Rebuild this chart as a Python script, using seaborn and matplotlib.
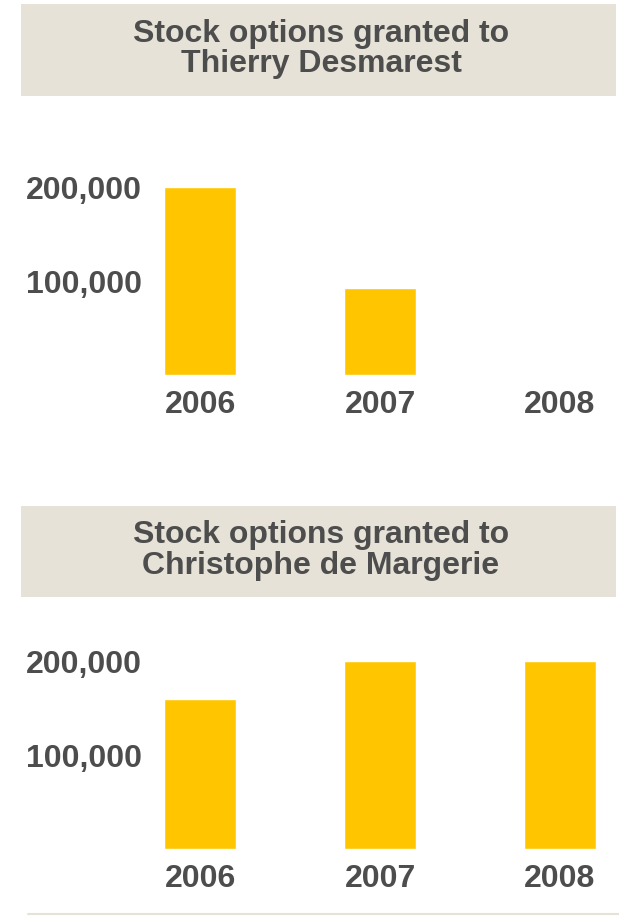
import matplotlib
matplotlib.use("Agg")
import matplotlib.pyplot as plt
from matplotlib.patches import Rectangle
import pandas as pd
import seaborn as sns

# Data
years = ["2006", "2007", "2008"]
desmarest_options = [200000, 92500, 0]
margerie_options = [160000, 200000, 200000]
ytick_values = [100000, 200000]
ytick_labels = ["100,000", "200,000"]
titles = ["Stock options granted to\nThierry Desmarest",
          "Stock options granted to\nChristophe de Margerie"]

BAR = "#FFC600"
BOX = "#E6E2D7"
TEXT = "#4D4D4D"

sns.set_theme(style="white")
plt.rcParams["font.family"] = ["Liberation Sans", "DejaVu Sans"]

W, H = 619, 916
fig = plt.figure(figsize=(W / 100, H / 100), dpi=100)
fig.patch.set_facecolor("white")


def px_rect(x0, y0, x1, y1):
    """Convert a top-left pixel box into figure fraction [left, bottom, width, height]."""
    return [x0 / W, 1 - y1 / H, (x1 - x0) / W, (y1 - y0) / H]


def panel(values, title, box_top, box_bottom, axis_zero):
    # title band
    l, b, w, h = px_rect(21, box_top, 616, box_bottom)
    fig.patches.append(Rectangle((l, b), w, h, transform=fig.transFigure,
                                 facecolor=BOX, edgecolor="none", zorder=0))
    fig.text(321 / W, 1 - ((box_top + box_bottom) / 2 - 1) / H, title,
             ha="center", va="center", fontsize=23, fontweight="bold",
             color=TEXT, linespacing=1.02)

    # bar axes: 188 px per 200,000, category spacing 180 px
    ax_left, ax_right = 150, 612
    ax_top = axis_zero - 200
    ax = fig.add_axes(px_rect(ax_left, ax_top, ax_right, axis_zero))
    df = pd.DataFrame({"year": years, "options": values})
    sns.barplot(data=df, x="year", y="options", color=BAR, saturation=1,
                width=0.4, ax=ax)
    ax.set_xlim((ax_left - 200) / 180, (ax_right - 200) / 180)
    ax.set_ylim(0, 200000 * 200 / 188)
    ax.set_yticks(ytick_values)
    ax.set_yticklabels(ytick_labels)
    ax.set_xlabel("")
    ax.set_ylabel("")
    for s in ax.spines.values():
        s.set_visible(False)
    ax.tick_params(axis="both", length=0, labelsize=23, labelcolor=TEXT)
    ax.tick_params(axis="y", pad=6)
    ax.tick_params(axis="x", pad=11)
    for t in ax.get_xticklabels() + ax.get_yticklabels():
        t.set_fontweight("bold")
    ax.set_facecolor("none")
    return ax


panel(desmarest_options, titles[0], 4, 96, 375)
panel(margerie_options, titles[1], 506, 597, 849)

# thin rule along the bottom
fig.add_artist(plt.Line2D([28 / W, 1], [1 - 914 / H, 1 - 914 / H],
                          transform=fig.transFigure, color=BOX, lw=1.5))

fig.savefig("out.png", dpi=100)
